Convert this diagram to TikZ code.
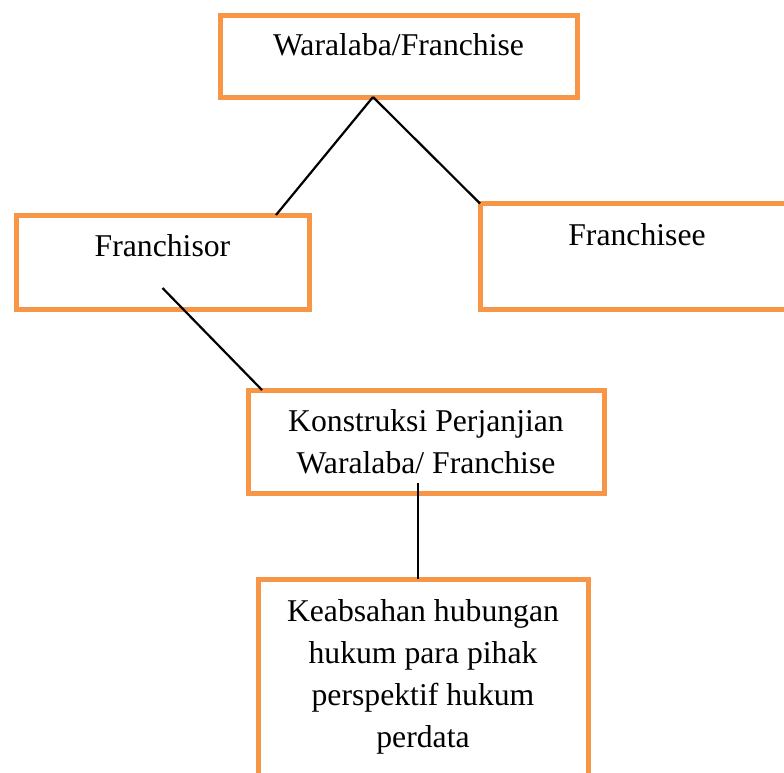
\documentclass[tikz,border=0pt]{standalone}
\usepackage{fontspec}
\setmainfont{Liberation Serif}
\usepackage{xcolor}
\definecolor{boxorange}{RGB}{247,150,70}

\begin{document}
\begin{tikzpicture}[x=1pt, y=-1pt, thick]
      \tikzstyle{box} = [draw=boxorange, line width=5pt, rectangle, inner sep=0pt, outer sep=0pt,
         anchor=north west, align=center, font=\fontsize{31.7}{42}\selectfont]
      \tikzstyle{line} = [draw=black, line width=2.2pt]
      \useasboundingbox (0,0) rectangle (784,772);
      %nodes
      \node[box, minimum width=357pt, text height=40pt, text depth=42pt]   (waralaba)   at (220,15)    {Waralaba/Franchise};
      \node[box, minimum width=293pt, text height=41pt, text depth=53pt]   (franchisor) at (16,215)    {Franchisor};
      \node[box, minimum width=314pt, text height=41.5pt, text depth=64.5pt] (franchisee) at (480,203.5) {Franchisee};
      \node[box, minimum width=356pt, text height=83pt, text depth=20pt]   (konstruksi) at (248,390)   {Konstruksi Perjanjian\\Waralaba/ Franchise};
      \node[box, minimum width=330pt, text height=168pt, text depth=60pt]  (keabsahan)  at (258,579)   {Keabsahan hubungan\\hukum para pihak\\perspektif hukum\\perdata};

      %lines
      \coordinate (fork) at ([xshift=-25.5pt]waralaba.south);
      \coordinate (stem) at ([xshift=-8pt, yshift=10pt]konstruksi.south);
      \draw [line] (fork) -- ([xshift=-33pt]franchisor.north east);
      \draw [line] (fork) -- (franchisee.north west);
      \draw [line] ([yshift=-26pt]franchisor.center) -- ([xshift=14pt]konstruksi.north west);
      \draw [line] (stem) -- (stem |- keabsahan.north);
    \end{tikzpicture}
\end{document}
